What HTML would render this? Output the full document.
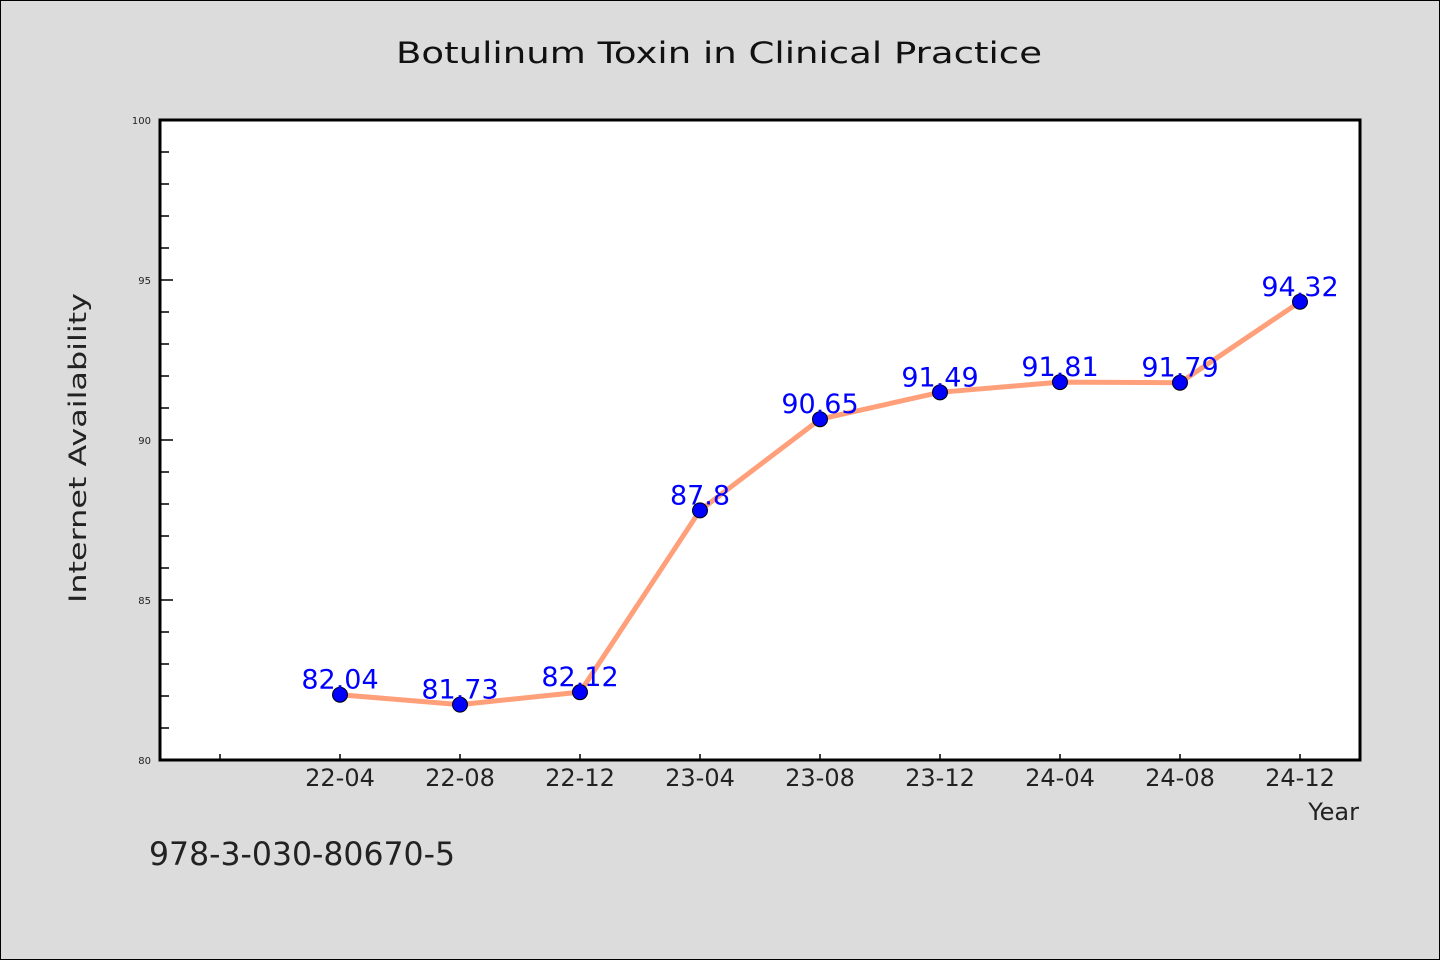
<!DOCTYPE html>
<html><head><meta charset="utf-8"><style>
html,body{margin:0;padding:0;background:#dcdcdc;}
svg{display:block;}
text{font-family:"WenQuanYi Zen Hei","DejaVu Sans",sans-serif;}
</style></head><body>
<svg id="chart" width="1440" height="960" viewBox="0 0 1440 960" xmlns="http://www.w3.org/2000/svg">
<rect x="0.5" y="0.5" width="1439" height="959" fill="#dcdcdc" stroke="#000" stroke-width="1"/>
<text x="719" y="63" text-anchor="middle" font-size="29" fill="#111" textLength="646" lengthAdjust="spacingAndGlyphs">Botulinum Toxin in Clinical Practice</text>
<rect x="160" y="120" width="1200" height="640" fill="#fff"/>
<g id="yaxis"></g><g id="xaxis"></g>
<rect x="160" y="120" width="1200" height="640" fill="none" stroke="#000" stroke-width="3"/>
<g id="series"></g>
<text transform="translate(86,448) rotate(-90)" text-anchor="middle" font-size="24" fill="#222" textLength="310" lengthAdjust="spacingAndGlyphs">Internet Availability</text>
<text x="1359" y="820" text-anchor="end" font-size="24" fill="#222">Year</text>
<text x="149" y="865" font-size="32" fill="#222" textLength="306" lengthAdjust="spacingAndGlyphs">978-3-030-80670-5</text>
</svg>
<script>
const categories=["22-04","22-08","22-12","23-04","23-08","23-12","24-04","24-08","24-12"];
const values=[82.04,81.73,82.12,87.8,90.65,91.49,91.81,91.79,94.32];
const valueLabels=["82.04","81.73","82.12","87.8","90.65","91.49","91.81","91.79","94.32"];
const yTicks=[80,85,90,95,100];
const yMin=80,yMax=100;
const NS="http://www.w3.org/2000/svg";
const L=160,R=1360,T=120,B=760;
function y(v){return B-(v-yMin)/(yMax-yMin)*(B-T);}
function x(i){return 220+120*(i+1);}
function mk(tag,attrs,parent){const e=document.createElementNS(NS,tag);for(const k in attrs)e.setAttribute(k,attrs[k]);parent.appendChild(e);return e;}
const ya=document.getElementById('yaxis'),xa=document.getElementById('xaxis'),se=document.getElementById('series');
for(let v=yMin+1;v<yMax;v++){
  if(yTicks.includes(v))continue;
  const t=mk('line',{x1:L,x2:L+9,y1:y(v),y2:y(v),stroke:'#000','stroke-width':1.5},ya);
  
  
}
yTicks.forEach(v=>{
  const t=mk('line',{x1:L,x2:L+13,y1:y(v),y2:y(v),stroke:'#000','stroke-width':1.5},ya);
  
  
  const lb=mk('text',{x:151,y:y(v)+4,'text-anchor':'end','font-size':10,fill:'#222'},ya);
  lb.textContent=v;
  
  
});
const t0=mk('line',{x1:220,x2:220,y1:B,y2:B-6,stroke:'#000','stroke-width':1.5},xa);


categories.forEach((c,i)=>{
  const t=mk('line',{x1:x(i),x2:x(i),y1:B,y2:B-6,stroke:'#000','stroke-width':1.5},xa);
  
  
  const lb=mk('text',{x:x(i),y:786,'text-anchor':'middle','font-size':24,fill:'#222'},xa);
  lb.textContent=c;
  
  
});
const pl=mk('polyline',{points:values.map((v,i)=>x(i)+','+y(v)).join(' '),fill:'none',stroke:'#ffa07a','stroke-width':5,'stroke-linejoin':'round'},se);


values.forEach((v,i)=>{
  const c=mk('circle',{cx:x(i),cy:y(v),r:7.5,fill:'#0000ff',stroke:'#000','stroke-width':1},se);
  
  
});
values.forEach((v,i)=>{
  const lb=mk('text',{x:x(i),y:y(v)-6,'text-anchor':'middle','font-size':27,fill:'#0000ff'},se);
  lb.textContent=valueLabels[i];
  
  
});
</script>
</body></html>
